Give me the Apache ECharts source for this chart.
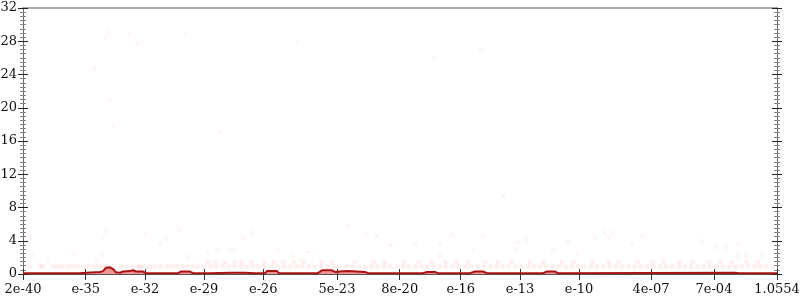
<!DOCTYPE html>
<html>
<head>
<meta charset="utf-8">
<script src="https://cdn.jsdelivr.net/npm/echarts@6/dist/echarts.min.js"></script>
<style>html,body{margin:0;padding:0;background:#fff}#c{width:800px;height:300px}</style>
</head>
<body>
<div id="c"></div>
<script>
// x axis: rank position (0-100), with value labels at selected ranks
var tickPos = [0, 8.32, 16.18, 24.0, 31.87, 41.64, 49.96, 58.05, 65.92, 73.74, 83.29, 91.64, 100];
var tickLabels = ['2e-40', 'e-35', 'e-32', 'e-29', 'e-26', '5e-23', '8e-20', 'e-16', 'e-13', 'e-10', '4e-07', '7e-04', '1.0554'];

// main curve
var lineX = [0, 7.56, 8.36, 10.21, 10.61, 11.01, 11.54, 11.94, 12.33, 12.86, 13.26, 14.19, 14.59, 14.99, 15.92, 16.31,
  20.56, 20.95, 22.15, 22.55, 24.8, 27.45, 29.44, 30.77, 32.1, 32.36, 33.69, 33.95, 39.12, 39.66, 40.98, 41.38, 42.04,
  43.1, 45.36, 45.76, 53.05, 53.58, 54.64, 55.04, 59.28, 59.95, 61.0, 61.54, 68.97, 69.5, 70.56, 70.95, 94.4, 95.0, 100];
var lineY = [0.1, 0.1, 0.15, 0.25, 0.35, 0.75, 0.8, 0.6, 0.2, 0.15, 0.3, 0.35, 0.45, 0.3, 0.3, 0.1,
  0.1, 0.3, 0.3, 0.1, 0.1, 0.15, 0.15, 0.1, 0.1, 0.35, 0.35, 0.1, 0.1, 0.45, 0.45, 0.25, 0.3,
  0.35, 0.25, 0.1, 0.1, 0.25, 0.25, 0.1, 0.1, 0.3, 0.3, 0.1, 0.1, 0.3, 0.3, 0.1, 0.15, 0.1, 0.1];

// scattered faint points
var dotX = [9.4, 10.9, 11.4, 14.2, 15.3, 21.6, 11.5, 12.1, 36.5, 54.4, 60.7, 26.1, 0.9, 1.2, 3.4, 6.9, 10.5, 11.0, 10.5, 9.8,
  16.3, 18.2, 19.1, 20.7, 21.8, 30.4, 29.2, 45.4, 46.9, 43.1, 48.7, 24.5, 25.7, 27.7, 33.7, 37.8, 35.8, 36.7,
  56.9, 61.0, 52.0, 55.3, 65.6, 66.7, 72.3, 75.9, 65.5, 70.3, 55.3, 59.8, 73.6, 77.1, 78.2, 77.7, 80.8, 82.2,
  90.2, 92.0, 93.2, 94.8, 94.7, 95.9, 98.0, 63.7];
var dotY = [24.7, 28.4, 29.1, 28.9, 27.8, 28.9, 20.9, 17.9, 27.9, 26, 27, 17, 4.4, 2.2, 1.8, 2.4, 4.3, 5.1, 2.2, 1.6,
  4.8, 3.7, 4.2, 5.3, 2.1, 5, 4.3, 4.8, 4.5, 5.8, 3.5, 2.6, 2.9, 3, 2.9, 2.6, 2.2, 1.8,
  4.7, 4.6, 3.6, 3.7, 3.9, 4.1, 3.9, 4.4, 3, 2.9, 2.2, 2.8, 2.4, 5, 5, 4.4, 3.7, 4.5,
  4, 3.2, 3.2, 3.7, 2.2, 2.2, 2.2, 9.3];
var rowLowX = [0.9, 2.3, 2.7, 4.0, 4.6, 5.2, 6.0, 6.6, 7.2, 8.0, 8.6, 9.3, 9.9, 10.5, 11.1, 11.9, 13.1, 13.8, 14.5, 15.2,
  15.5, 15.9, 16.8, 17.5, 18.2, 19.1, 19.8, 20.4, 21.1, 21.8, 22.5, 23.2, 24.0, 24.9, 25.6, 26.5, 27.3, 28.0, 28.9,
  29.7, 30.5, 31.2, 32.0, 33.0, 33.8, 34.6, 35.4, 36.3, 37.0, 37.9, 38.7, 39.5, 40.4, 41.2, 42.0, 42.9, 43.7, 44.6,
  45.4, 46.2, 47.0, 47.9, 48.7, 49.6, 50.4, 51.1, 52.0, 52.9, 53.6, 54.5, 55.3, 56.1, 57.0, 57.8, 58.7, 59.4, 60.3,
  61.1, 62.0, 62.8, 63.6, 64.4, 65.3, 66.1, 67.0, 67.8, 68.6, 69.4, 70.3, 71.1, 72.0, 72.8, 73.6, 74.4, 75.3, 76.1,
  77.0, 77.8, 78.6, 79.5, 80.3, 81.1, 82.0, 82.8, 83.6, 84.5, 85.3, 86.1, 87.0, 87.8, 88.6, 89.5, 90.3, 91.1, 92.0,
  92.8, 93.7, 94.5, 95.3, 96.1, 97.0, 97.8, 98.6, 99.4];
var rowLowY = 0.9;
var rowMidX = [24.5, 25.5, 26.8, 28.1, 29.0, 30.3, 32.0, 33.3, 34.5, 35.9, 37.2, 39.6, 41.0, 44.0, 46.5, 48.0, 50.5, 52.5,
  54.2, 56.0, 57.5, 59.0, 61.3, 63.0, 64.8, 67.2, 69.0, 71.5, 73.0, 75.5, 77.7, 79.0, 81.5, 83.5, 85.0, 87.0, 88.8,
  91.0, 92.5, 94.0, 96.0, 97.5];
var rowMidY = 1.4;

var lineData = lineX.map(function (x, i) { return [x, lineY[i]]; });
var dotData = dotX.map(function (x, i) { return [x, dotY[i]]; });
var rowData = rowLowX.map(function (x) { return [x, rowLowY]; })
  .concat(rowMidX.map(function (x) { return [x, rowMidY]; }));

var FONT = "'DejaVu Serif', serif";
function xAxisBase(inside, showLabel) {
  return {
    type: 'value', min: 0, max: 100, position: 'bottom',
    axisLine: { show: true, onZero: false, lineStyle: { color: '#555', width: 1 } },
    axisTick: { show: true, inside: inside, length: inside ? 5 : 6, customValues: tickPos, lineStyle: { color: '#333', width: 1 } },
    axisLabel: {
      show: showLabel, customValues: tickPos, fontFamily: FONT, fontSize: 13, color: '#111', margin: 9,
      hideOverlap: false,
      formatter: function (v) {
        for (var i = 0; i < tickPos.length; i++) { if (Math.abs(tickPos[i] - v) < 1e-6) return tickLabels[i]; }
        return '';
      }
    },
    splitLine: { show: false }
  };
}
function yAxisBase(pos, inside, showLabel) {
  return {
    type: 'value', min: 0, max: 32, interval: 4, position: pos,
    axisLine: { show: true, onZero: false, lineStyle: { color: '#666', width: 1 } },
    axisTick: { show: true, inside: inside, length: 5, lineStyle: { color: '#222', width: 1 } },
    minorTick: { show: true, splitNumber: 8, length: 3, lineStyle: { color: '#888', width: 1 } },
    axisLabel: { show: showLabel, fontFamily: FONT, fontSize: 13, color: '#111', margin: 6 },
    splitLine: { show: false }, minorSplitLine: { show: false }
  };
}

var chart = echarts.init(document.getElementById('c'), null, { renderer: 'canvas' });
chart.setOption({
  animation: false,
  backgroundColor: '#fff',
  grid: { left: 23, right: 23, top: 8, bottom: 26, containLabel: false, outerBoundsMode: 'none' },
  xAxis: [
    xAxisBase(false, true),
    xAxisBase(true, false),
    { type: 'value', min: 0, max: 100, position: 'top',
      axisLine: { show: true, onZero: false, lineStyle: { color: '#aaa', width: 2 } },
      axisTick: { show: false }, axisLabel: { show: false }, splitLine: { show: false } }
  ],
  yAxis: [
    yAxisBase('left', false, true),
    yAxisBase('left', true, false),
    yAxisBase('right', false, false),
    yAxisBase('right', true, false)
  ],
  series: [
    { type: 'scatter', data: rowData, symbolSize: 5, silent: true, z: 1,
      itemStyle: { color: 'rgba(255,40,40,0.09)' } },
    { type: 'scatter', data: dotData, symbolSize: 5, silent: true, z: 1,
      itemStyle: { color: 'rgba(255,40,40,0.055)' } },
    { type: 'line', data: lineData, showSymbol: false, z: 3, smooth: false,
      lineStyle: { color: '#a81414', width: 2 },
      areaStyle: { color: 'rgba(235,50,50,0.75)', origin: 'start' } }
  ]
});
</script>
</body>
</html>
